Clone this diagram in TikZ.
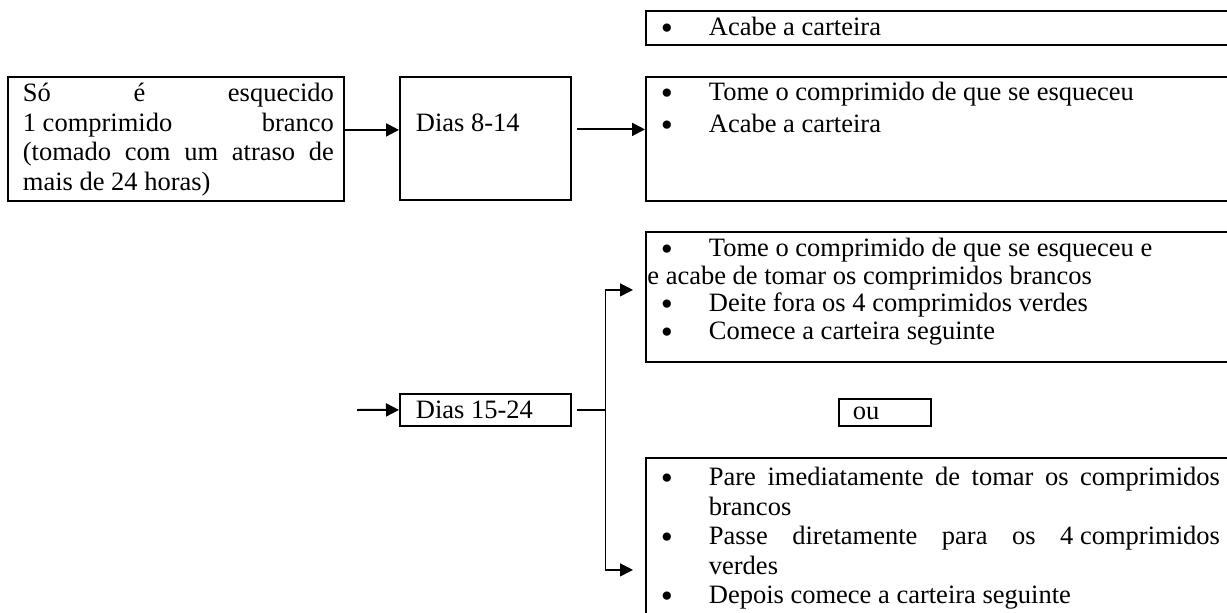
\documentclass[tikz,border=0pt]{standalone}
\usepackage{fontspec}
\setmainfont{Liberation Serif}
\usetikzlibrary{arrows.meta, positioning}
\setlength{\parindent}{0pt}

% width, height, first baseline, line pitch, text
\newcommand{\conteudo}[5]{\begin{minipage}[t][#2][t]{#1}\fontsize{26.5}{#4}\selectfont\rule{0pt}{#3}#5\end{minipage}}
\newcommand{\bul}[1]{\hspace*{15pt}\makebox[48pt][l]{\raisebox{-4pt}{\scalebox{1.3}{\textbullet}}}#1}

\begin{document}
\begin{tikzpicture}[x=1pt, y=-1pt,
  caixa/.style={draw, line width=1.8pt, inner sep=0pt, anchor=north west,
    font=\fontsize{26.5}{29.5}\selectfont},
  seta/.style={line width=2pt, -{Triangle[length=13pt, width=13pt]}},
  fio/.style={line width=1.3pt}]
\useasboundingbox (0,0) rectangle (1227,613);
\clip (0,0) rectangle (1227,613);

% Acabe a carteira
\node[caixa] (topo) at (645,10) {\conteudo{600pt}{34pt}{25pt}{29.5pt}{\bul{Acabe a carteira}}};

% So e esquecido
\node[caixa] (esquecido) at (7,76) {\conteudo{336pt}{124pt}{25pt}{29.5pt}{%
    \hspace*{15pt}\makebox[311pt][s]{Só é esquecido}\\
    \hspace*{15pt}\makebox[311pt][s]{1\hspace{6.6pt}comprimido branco}\\
    \hspace*{15pt}\makebox[311pt][s]{(tomado com um atraso de}\\
    \hspace*{15pt}mais de 24 horas)}};

% Dias 8-14
\node[caixa] (dias814) at (399,76) {\conteudo{171pt}{123pt}{55pt}{29.5pt}{\hspace*{16pt}Dias 8-14}};

\node[caixa] (passos814) at (645,76) {\conteudo{600pt}{124pt}{24pt}{31.5pt}{%
    \bul{Tome o comprimido de que se esqueceu}\\
    \bul{Acabe a carteira}}};

% Dias 15-24
\node[caixa] (dias1524) at (399,393) {\conteudo{171pt}{32pt}{25pt}{29.5pt}{\hspace*{16pt}Dias 15-24}};

\node[caixa] (opcao1) at (645,231) {\conteudo{600pt}{130pt}{25pt}{27.5pt}{%
    \bul{Tome o comprimido de que se esqueceu e}\\
    \hspace*{1.5pt}e acabe de tomar os comprimidos brancos\\
    \bul{Deite fora os 4 comprimidos verdes}\\
    \bul{Comece a carteira seguinte}}};

\node[caixa] (ou) at (838,398) {\conteudo{92pt}{27pt}{21pt}{29.5pt}{\hspace*{14pt}ou}};

\node[caixa] (opcao2) at (645,457) {\conteudo{600pt}{175pt}{28pt}{29.5pt}{%
    \bul{\makebox[511pt][s]{Pare imediatamente de tomar os comprimidos}}\\
    \hspace*{63pt}brancos\\
    \bul{\makebox[511pt][s]{Passe diretamente para os 4\hspace{6.6pt}comprimidos}}\\
    \hspace*{63pt}verdes\\
    \bul{Depois comece a carteira seguinte}}};

% Arrows
\draw[seta] ([yshift=9pt]esquecido.east) -- ([yshift=9pt]esquecido.east -| dias814.west);
\draw[seta] ([xshift=5pt,yshift=9pt]dias814.east) -- ([yshift=9pt]dias814.east -| passos814.west);

\coordinate (entrada) at (357,410);
\draw[seta] (entrada) -- (dias1524.west);

% Branch to the two options
\draw[fio] ([xshift=5pt]dias1524.east) -- ++(29,0) coordinate (ramo);
\draw[fio, -{Triangle[length=13pt, width=13pt]}] (ramo) |- ([xshift=-12pt,yshift=7pt]opcao1.west);
\draw[fio, -{Triangle[length=13pt, width=13pt]}] (ramo) |- ([xshift=-12pt,yshift=-24.5pt]opcao2.west);

\end{tikzpicture}
\end{document}
